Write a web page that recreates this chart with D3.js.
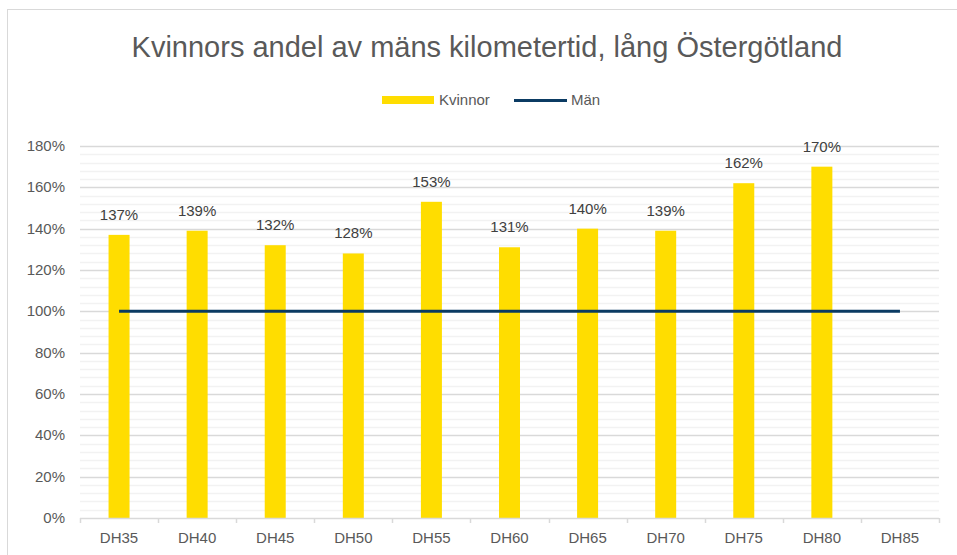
<!DOCTYPE html>
<html>
<head>
<meta charset="utf-8">
<script src="https://cdn.jsdelivr.net/npm/d3@7"></script>
<style>
  body { margin: 0; background: #fff; }
  text { font-family: "Liberation Sans", Arial, sans-serif; }
</style>
</head>
<body>
<svg id="chart"></svg>
<script>
var w = 957;
var h = 555;

var categories = ['DH35', 'DH40', 'DH45', 'DH50', 'DH55', 'DH60', 'DH65', 'DH70', 'DH75', 'DH80', 'DH85'];
var kvinnor = [137, 139, 132, 128, 153, 131, 140, 139, 162, 170, null];
var man = [100, 100, 100, 100, 100, 100, 100, 100, 100, 100, 100];
var yTicks = [0, 20, 40, 60, 80, 100, 120, 140, 160, 180];

var plot = {left: 80, right: 939, top: 146, bottom: 518};

var svg = d3.select('#chart').attr('width', w).attr('height', h);

// chart frame
svg.append('rect')
  .attr('x', 7.5).attr('y', 9.5)
  .attr('width', w + 10).attr('height', h + 10)
  .attr('fill', '#fff').attr('stroke', '#d9d9d9');

var x = d3.scaleBand().domain(categories).range([plot.left, plot.right]);
var y = d3.scaleLinear().domain([0, 180]).range([plot.bottom, plot.top]);

// minor grid
svg.append('g').selectAll('line')
  .data(d3.range(0, 181, 4).filter(function (d) { return d % 20 !== 0; }))
  .enter().append('line')
  .attr('x1', plot.left).attr('x2', plot.right)
  .attr('y1', function (d) { return Math.round(y(d)) + 0.5; })
  .attr('y2', function (d) { return Math.round(y(d)) + 0.5; })
  .attr('stroke', '#f2f2f2').attr('stroke-width', 1.5);

// major grid
svg.append('g').selectAll('line')
  .data(yTicks.slice(1))
  .enter().append('line')
  .attr('x1', plot.left).attr('x2', plot.right)
  .attr('y1', function (d) { return Math.round(y(d)) + 0.5; })
  .attr('y2', function (d) { return Math.round(y(d)) + 0.5; })
  .attr('stroke', '#d9d9d9').attr('stroke-width', 1.5);

// y labels
svg.append('g').selectAll('text')
  .data(yTicks)
  .enter().append('text')
  .attr('x', 65)
  .attr('y', function (d) { return y(d) + 5; })
  .attr('text-anchor', 'end')
  .attr('font-size', '15px')
  .attr('fill', '#595959')
  .text(function (d) { return d + '%'; });

// bars
var barW = 21;
svg.append('g').selectAll('rect')
  .data(kvinnor.map(function (v, i) { return {c: categories[i], v: v}; })
    .filter(function (d) { return d.v !== null; }))
  .enter().append('rect')
  .attr('x', function (d) { return x(d.c) + x.bandwidth() / 2 - barW / 2; })
  .attr('y', function (d) { return y(d.v); })
  .attr('width', barW)
  .attr('height', function (d) { return y(0) - y(d.v); })
  .attr('fill', '#ffdd00');

// x axis
svg.append('line')
  .attr('x1', plot.left).attr('x2', plot.right)
  .attr('y1', plot.bottom + 0.5).attr('y2', plot.bottom + 0.5)
  .attr('stroke', '#d9d9d9').attr('stroke-width', 1.5);

svg.append('g').selectAll('line')
  .data(categories.concat(['end']))
  .enter().append('line')
  .attr('x1', function (d, i) { return Math.round(plot.left + i * x.bandwidth()) + 0.5; })
  .attr('x2', function (d, i) { return Math.round(plot.left + i * x.bandwidth()) + 0.5; })
  .attr('y1', plot.bottom).attr('y2', plot.bottom + 5)
  .attr('stroke', '#d9d9d9').attr('stroke-width', 1.5);

svg.append('g').selectAll('text')
  .data(categories)
  .enter().append('text')
  .attr('x', function (d) { return x(d) + x.bandwidth() / 2; })
  .attr('y', 543)
  .attr('text-anchor', 'middle')
  .attr('font-size', '15px')
  .attr('fill', '#595959')
  .text(function (d) { return d; });

// Män line
var line = d3.line()
  .x(function (d, i) { return x(categories[i]) + x.bandwidth() / 2; })
  .y(function (d) { return y(d); });

svg.append('path')
  .datum(man)
  .attr('d', line)
  .attr('fill', 'none')
  .attr('stroke', '#0b3b63')
  .attr('stroke-width', 3);

// bar labels
svg.append('g').selectAll('text')
  .data(kvinnor.map(function (v, i) { return {c: categories[i], v: v}; })
    .filter(function (d) { return d.v !== null; }))
  .enter().append('text')
  .attr('x', function (d) { return x(d.c) + x.bandwidth() / 2; })
  .attr('y', function (d) { return y(d.v) - 15; })
  .attr('text-anchor', 'middle')
  .attr('font-size', '15px')
  .attr('fill', '#404040')
  .text(function (d) { return d.v + '%'; });

// title
svg.append('text')
  .attr('x', 487).attr('y', 57)
  .attr('text-anchor', 'middle')
  .attr('font-size', '29px')
  .attr('fill', '#595959')
  .text('Kvinnors andel av mäns kilometertid, lång Östergötland');

// legend
var lg = svg.append('g');
lg.append('rect')
  .attr('x', 382).attr('y', 96).attr('width', 52).attr('height', 8)
  .attr('fill', '#ffdd00');
lg.append('text')
  .attr('x', 439).attr('y', 105)
  .attr('font-size', '15px').attr('fill', '#595959')
  .text('Kvinnor');
lg.append('line')
  .attr('x1', 514).attr('x2', 567).attr('y1', 100.5).attr('y2', 100.5)
  .attr('stroke', '#0b3b63').attr('stroke-width', 3);
lg.append('text')
  .attr('x', 571).attr('y', 105)
  .attr('font-size', '15px').attr('fill', '#595959')
  .text('Män');
</script>
</body>
</html>
